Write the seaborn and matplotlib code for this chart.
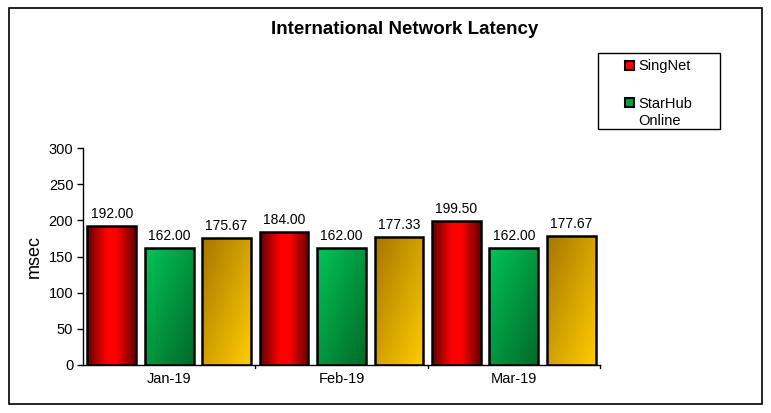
import numpy as np
import pandas as pd
import matplotlib
matplotlib.use("Agg")
import matplotlib.pyplot as plt
from matplotlib.colors import LinearSegmentedColormap
from matplotlib.patches import Rectangle, Patch
from matplotlib.legend_handler import HandlerPatch
import seaborn as sns

# data
months = ["Jan-19", "Feb-19", "Mar-19"]
singnet = [192.00, 184.00, 199.50]
starhub = [162.00, 162.00, 162.00]
third = [175.67, 177.33, 177.67]
series_names = ["SingNet", "StarHub\nOnline", "Pacific Internet"]

df = pd.DataFrame({
    "month": months * 3,
    "isp": [series_names[0]] * 3 + [series_names[1]] * 3 + [series_names[2]] * 3,
    "msec": singnet + starhub + third,
})

sns.set_style("white")
plt.rcParams["font.family"] = ["Liberation Sans", "DejaVu Sans"]
plt.rcParams["text.color"] = "black"
plt.rcParams["axes.labelcolor"] = "black"
plt.rcParams["xtick.color"] = "black"
plt.rcParams["ytick.color"] = "black"

fig = plt.figure(figsize=(7.71, 4.13), dpi=100)
ax = fig.add_axes([83 / 771, 1 - 365 / 413, 517 / 771, 217 / 413])

sns.barplot(data=df, x="month", y="msec", hue="isp", hue_order=series_names,
            width=1.0, gap=0.15, ax=ax, legend=False,
            edgecolor="black", linewidth=1.8, err_kws={"linewidth": 0})

# gradient fills, like the Excel original
red_cm = LinearSegmentedColormap.from_list("r", [(0, "#640000"), (0.4, "#ff0000"),
                                                 (0.6, "#ff0000"), (1, "#640000")])
green_cm = LinearSegmentedColormap.from_list("g", ["#00c455", "#006a2a"])
gold_cm = LinearSegmentedColormap.from_list("y", ["#a87600", "#ffcc00"])

xx, yy = np.meshgrid(np.linspace(0, 1, 64), np.linspace(0, 1, 64))
horiz = xx
diag = (xx + yy) / 2  # yy=0 is top row with origin="upper"

fills = [(red_cm, horiz), (green_cm, diag), (gold_cm, diag)]
for i, patch in enumerate(ax.patches[:9]):
    cm, grad = fills[i // 3]
    x0, y0 = patch.get_x(), patch.get_y()
    w, h = patch.get_width(), patch.get_height()
    im = ax.imshow(grad, cmap=cm, extent=[x0, x0 + w, y0, y0 + h],
                   origin="upper", aspect="auto", zorder=patch.get_zorder() - 0.1)
    im.set_clip_path(patch)
    patch.set_facecolor("none")
    ax.text(x0 + w / 2, h + 7, f"{h:.2f}", ha="center", va="bottom", fontsize=10)

ax.set_xlim(-0.5, 2.5)
ax.set_ylim(0, 300)
ax.set_yticks(range(0, 301, 50))
ax.set_xlabel("")
ax.set_ylabel("msec", fontsize=13)
ax.tick_params(axis="both", labelsize=10.5, length=0, pad=5)
ax.tick_params(axis="y", length=4, width=1, color="black", direction="out", left=True, pad=3)

# tick marks between categories
for xb in [0.5, 1.5, 2.5]:
    ax.plot([xb, xb], [0, -4], color="black", lw=1, clip_on=False)
ax.set_xticks([0, 1, 2])

for side in ["top", "right"]:
    ax.spines[side].set_visible(False)
for side in ["left", "bottom"]:
    ax.spines[side].set_color("black")
    ax.spines[side].set_linewidth(1)

fig.text(405 / 771, 1 - 29 / 413, "International Network Latency", ha="center", va="center",
         fontsize=13.5, fontweight="bold")


def top_aligned(legend, orig_handle, xdescent, ydescent, width, height, fontsize):
    # keep the square next to the first line of a two-line label
    return Rectangle((-xdescent, -ydescent + 7.5), width, height)


handles = [Patch(facecolor="#ff0000", edgecolor="black", linewidth=1.5),
           Patch(facecolor="#00a040", edgecolor="black", linewidth=1.5)]
leg = fig.legend(handles, series_names[:2], loc="upper left",
                 bbox_to_anchor=(618 / 771, 1 - 52 / 413), fontsize=10.5,
                 frameon=False, handlelength=0.6, handleheight=0.6,
                 handletextpad=0.3, labelspacing=1.6, borderpad=0,
                 handler_map={handles[1]: HandlerPatch(patch_func=top_aligned)})
for t in leg.get_texts():
    t.set_linespacing(1.35)

# legend frame, wider than its entries as in the original
fig.patches.append(Rectangle((598 / 771, 1 - 129 / 413), 122 / 771, 76 / 413,
                             transform=fig.transFigure, fill=False,
                             edgecolor="black", linewidth=1))

fig.patches.append(Rectangle((9 / 771, 1 - 404 / 413), 753 / 771, 396 / 413,
                             transform=fig.transFigure, fill=False,
                             edgecolor="black", linewidth=1.2))

fig.savefig("out.png", dpi=100)
